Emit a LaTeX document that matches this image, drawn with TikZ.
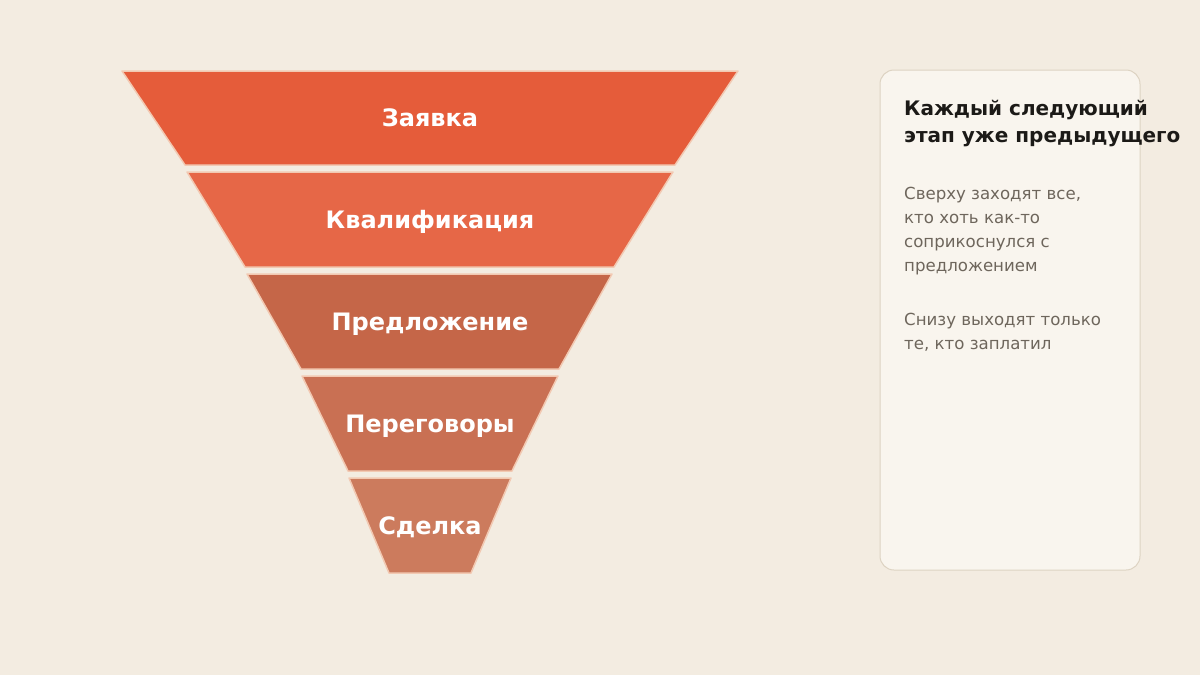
\documentclass[tikz,border=0pt]{standalone}
\usepackage{fontspec}
\setmainfont{DejaVu Sans}
\definecolor{bg}{HTML}{F3ECE1}
\definecolor{panelfill}{HTML}{F9F5EE}
\definecolor{panelline}{HTML}{DDD3C2}
\definecolor{edge}{HTML}{F2C9B2}
\definecolor{bandA}{HTML}{E55C3A}
\definecolor{bandB}{HTML}{E66747}
\definecolor{bandC}{HTML}{C56648}
\definecolor{bandD}{HTML}{C97053}
\definecolor{bandE}{HTML}{CC7B5D}
\definecolor{titlecol}{HTML}{1C1A17}
\definecolor{bodycol}{HTML}{6E665C}
\tikzset{
  band/.style={draw=edge, line width=1.5pt, line join=round},
  bandlabel/.style={anchor=base, text=white, font=\fontsize{24}{28}\selectfont\bfseries, inner sep=0pt},
  paneltitle/.style={anchor=base west, text=titlecol, font=\fontsize{20}{27}\selectfont\bfseries, inner sep=0pt, align=left},
  panelbody/.style={anchor=base west, text=bodycol, font=\fontsize{16.6}{24}\selectfont, inner sep=0pt, align=left},
}
\begin{document}
\begin{tikzpicture}[x=1pt,y=-1pt]
\useasboundingbox (0,0) rectangle (1200,675);
\fill[bg] (0,0) rectangle (1200,675);
% funnel bands
\filldraw[band, fill=bandA] (122,71) -- (738,71) -- (675,165) -- (185,165) -- cycle;
\filldraw[band, fill=bandB] (187,172) -- (673,172) -- (614,267) -- (245,267) -- cycle;
\filldraw[band, fill=bandC] (247,274) -- (612,274) -- (559,369) -- (301,369) -- cycle;
\filldraw[band, fill=bandD] (302,376) -- (558,376) -- (512,471) -- (348,471) -- cycle;
\filldraw[band, fill=bandE] (349,478) -- (511,478) -- (471,573) -- (389,573) -- cycle;
\node[bandlabel] (l1) at (430,126.5) {Заявка};
\node[bandlabel] (l2) at (430,228) {Квалификация};
\node[bandlabel] (l3) at (430,330) {Предложение};
\node[bandlabel] (l4) at (430,432) {Переговоры};
\node[bandlabel] (l5) at (430,534) {Сделка};
% side panel
\filldraw[fill=panelfill, draw=panelline, line width=1pt, rounded corners=14pt] (880,70) rectangle (1140,570);
\node[paneltitle] (t1) at (904,142) {Каждый следующий\\этап уже предыдущего};
\node[panelbody] (b1) at (904,271) {Сверху заходят все,\\кто хоть как-то\\соприкоснулся с\\предложением};
\node[panelbody] (b2) at (904,349) {Снизу выходят только\\те, кто заплатил};
\end{tikzpicture}
\end{document}
